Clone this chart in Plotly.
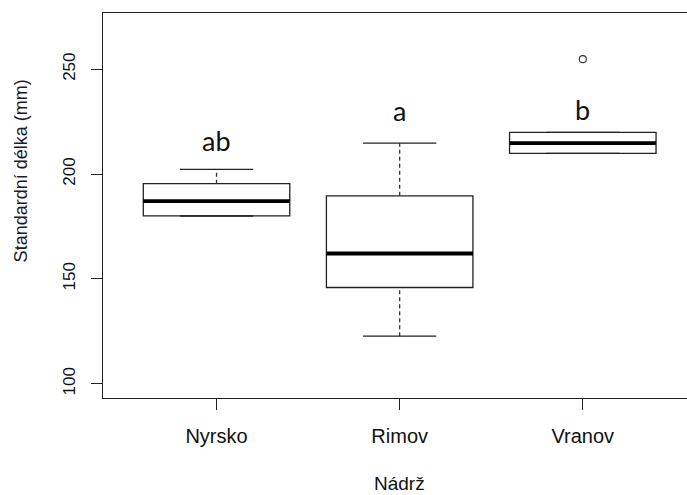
import plotly.graph_objects as go

# ---- data ----
categories = ["Nyrsko", "Rimov", "Vranov"]
positions = [1, 2, 3]
whisker_low = [180.0, 122.7, 209.9]
q1 = [180.1, 145.9, 209.9]
median = [187.1, 162.1, 214.7]
q3 = [195.4, 189.6, 219.9]
whisker_high = [202.2, 214.7, 219.9]
outlier_x = [3]
outlier_y = [254.8]
letters = ["ab", "a", "b"]
letter_y = [207.0, 221.5, 222.0]
y_ticks = [100, 150, 200, 250]

LINE = "#222222"
box_half = 0.4
cap_half = 0.2

fig = go.Figure()

# boxes (no whiskers; drawn separately as dashed lines)
fig.add_trace(go.Box(
    x=positions, q1=q1, median=median, q3=q3,
    lowerfence=q1, upperfence=q3,
    width=2 * box_half, whiskerwidth=0,
    fillcolor="white", line=dict(color=LINE, width=1.3),
    boxpoints=False, showlegend=False, hoverinfo="skip",
))

# dashed whiskers
wx, wy = [], []
for p, lo, a, b, hi in zip(positions, whisker_low, q1, q3, whisker_high):
    wx += [p, p, None, p, p, None]
    wy += [lo, a, None, b, hi, None]
fig.add_trace(go.Scatter(x=wx, y=wy, mode="lines",
                         line=dict(color="#333333", width=1.3, dash="4px,3px"),
                         showlegend=False, hoverinfo="skip"))

# whisker caps
cx, cy = [], []
for p, lo, hi in zip(positions, whisker_low, whisker_high):
    cx += [p - cap_half, p + cap_half, None, p - cap_half, p + cap_half, None]
    cy += [lo, lo, None, hi, hi, None]
fig.add_trace(go.Scatter(x=cx, y=cy, mode="lines",
                         line=dict(color=LINE, width=1.3),
                         showlegend=False, hoverinfo="skip"))

# thick medians
mx, my = [], []
for p, m in zip(positions, median):
    mx += [p - box_half, p + box_half, None]
    my += [m, m, None]
fig.add_trace(go.Scatter(x=mx, y=my, mode="lines",
                         line=dict(color="black", width=3.8),
                         showlegend=False, hoverinfo="skip"))

# outlier
fig.add_trace(go.Scatter(x=outlier_x, y=outlier_y, mode="markers",
                         marker=dict(symbol="circle-open", size=7,
                                     color="#333333", line=dict(width=1.1)),
                         showlegend=False, hoverinfo="skip"))

# significance letters
for p, t, yv in zip(positions, letters, letter_y):
    fig.add_annotation(x=p, y=yv, text=t, showarrow=False,
                       xanchor="center", yanchor="bottom",
                       font=dict(family="Lato, Carlito, sans-serif", size=27, color="#111111"))

# axis titles
fig.add_annotation(x=-0.1413, y=201.5, xref="paper", yref="y", text="Standardní délka (mm)",
                   showarrow=False, textangle=-90, xanchor="center", yanchor="middle",
                   font=dict(family="Liberation Sans, Arial, sans-serif", size=18, color="#1a1a2a"))
fig.add_annotation(x=2, y=-0.222, xref="x", yref="paper", text="Nádrž",
                   showarrow=False, xanchor="center", yanchor="middle",
                   font=dict(family="Liberation Sans, Arial, sans-serif", size=19, color="#111111"))

fig.update_layout(
    width=687, height=495,
    margin=dict(l=103, r=0, t=13, b=97),
    paper_bgcolor="white", plot_bgcolor="white",
    xaxis=dict(
        range=[0.38, 3.569], tickvals=positions, ticktext=categories,
        showgrid=False, zeroline=False,
        showline=True, mirror=True, linecolor=LINE, linewidth=1.3,
        ticks="outside", ticklen=11, tickcolor=LINE, tickwidth=1.3,
        ticklabelstandoff=9,
        tickfont=dict(family="Liberation Sans, Arial, sans-serif", size=20, color="#111111"),
        automargin=False,
    ),
    yaxis=dict(
        range=[93.2, 276.8], tickvals=y_ticks,
        showgrid=False, zeroline=False,
        showline=True, mirror=False, linecolor=LINE, linewidth=1.3,
        ticks="outside", ticklen=11, tickcolor=LINE, tickwidth=1.3,
        tickangle=-90, ticklabelstandoff=9,
        tickfont=dict(family="Liberation Sans, Arial, sans-serif", size=17, color="#111111"),
        automargin=False,
    ),
)

fig.write_html("out.html")
